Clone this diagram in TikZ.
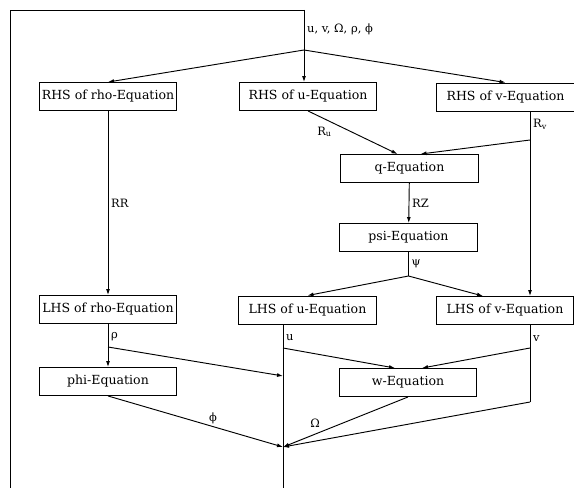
\documentclass[tikz,border=0pt]{standalone}
\usepackage{fontspec}
\setmainfont{DejaVu Serif}
\usepackage{tikz}
\usetikzlibrary{arrows.meta,calc}

\tikzset{
  eqbox/.style={draw, line width=0.7pt, minimum width=103pt, minimum height=21pt, inner sep=1pt,
    font=\fontsize{9.4}{11}\selectfont},
  flow/.style={line width=0.7pt},
  lab/.style={font=\fontsize{8.6}{10}\selectfont, inner sep=2pt}
}

\begin{document}
\begin{tikzpicture}[x=0.75pt, y=-0.75pt, >={Latex[length=4.5pt,width=3pt]}]
    \useasboundingbox (0,0) rectangle (574,488);

    % equation boxes
    \node[eqbox] (rhsrho) at (108,96.5) {RHS of rho-Equation};
    \node[eqbox] (rhsu)   at (308,96.5)   {RHS of u-Equation};
    \node[eqbox] (rhsv)   at (505.5,97)   {RHS of v-Equation};
    \node[eqbox] (qeq)    at (409.5,168.5) {q-Equation};
    \node[eqbox] (psieq)  at (408.5,237.5) {psi-Equation};
    \node[eqbox] (lhsrho) at (108,309.5) {LHS of rho-Equation};
    \node[eqbox] (lhsu)   at (307.5,310)  {LHS of u-Equation};
    \node[eqbox] (lhsv)   at (505,310.5)  {LHS of v-Equation};
    \node[eqbox] (phieq)  at (108,381.5) {phi-Equation};
    \node[eqbox] (weq)    at (408,382.5)  {w-Equation};

    % branch points
    \coordinate (loopend) at (10,488);
    \coordinate (feed)    at (304,10);
    \coordinate (split)   at (304,50);
    \coordinate (rvtap)   at (530,140);
    \coordinate (psisplit) at (408.5,276);
    \coordinate (rhotap)  at (108,347);
    \coordinate (rhoin)   at (283,376);
    \coordinate (utap)    at (283,348);
    \coordinate (merge)   at (283,447);
    \coordinate (mainend) at (283,488);
    \coordinate (vtap)    at (530,348);
    \coordinate (vbend)   at (530,402);

    % feedback loop
    \draw[flow] (loopend) |- (feed);
    \draw[flow,->] (feed) -- (rhsu.north -| feed)
        node[lab, pos=0.27, right] {u, v, Ω, ρ, ϕ};
    \draw[flow,->] (split) -- (rhsrho.north);
    \draw[flow,->] (split) -- (rhsv.north);

    % rho branch
    \draw[flow,->] (rhsrho) -- (lhsrho) node[lab, midway, right] {RR};
    \draw[flow,->] (lhsrho) -- (phieq) node[lab, pos=0.3, right] {ρ};
    \draw[flow,->] (rhotap) -- (rhoin);
    \draw[flow,->] (phieq.south) -- (merge) node[lab, pos=0.6, above] {ϕ};

    % u, v branches
    \draw[flow,->] (rhsu.south) -- ($(qeq.north)+(-12,0)$)
        node[lab, pos=0.3, below left] {R\textsubscript{u}};
    \draw[flow,->] (rhsv.south -| rvtap) -- (lhsv.north -| rvtap)
        node[lab, pos=0.07, right] {R\textsubscript{v}};
    \draw[flow,->] (rvtap) -- ($(qeq.north)+(11,0)$);
    \draw[flow,->] (qeq) -- (psieq) node[lab, midway, right] {RZ};
    \draw[flow] (psieq) -- (psisplit) node[lab, midway, right] {ψ};
    \draw[flow,->] (psisplit) -- (lhsu.north);
    \draw[flow,->] (psisplit) -- ($(lhsv.north)+(-22,0)$);

    % w and return line
    \draw[flow] (lhsu.south -| merge) -- (mainend) node[lab, pos=0.08, right] {u};
    \draw[flow,->] (utap) -- ($(weq.north)+(-13,0)$);
    \draw[flow] (lhsv.south -| vbend) -- (vbend) node[lab, pos=0.17, right] {v};
    \draw[flow,->] (vtap) -- ($(weq.north)+(14,0)$);
    \draw[flow,->] (vbend) -- (merge);
    \draw[flow,->] (weq.south) -- (merge) node[lab, pos=0.68, above left] {Ω};
\end{tikzpicture}
\end{document}
